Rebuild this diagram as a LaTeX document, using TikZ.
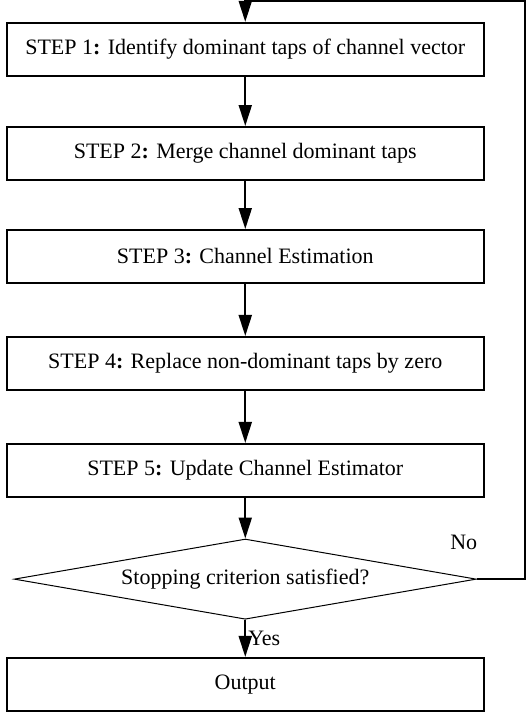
\documentclass[tikz,border=0pt]{standalone}
\usepackage{fontspec}
\setmainfont{Liberation Serif}
\usetikzlibrary{shapes.geometric,arrows.meta}

\begin{document}
\begin{tikzpicture}[stepbox/.style={rectangle, draw, line width=1pt, minimum width=8.38cm, minimum height=0.93cm, inner sep=0pt}, decbox/.style={diamond, draw, line width=0.5pt, aspect=5.8, inner sep=0pt, minimum width=8.12cm, minimum height=1.41cm}, flow/.style={line width=1pt, -{Triangle[length=10.5pt, width=6.5pt]}}, font=\fontsize{11}{13}\selectfont]
\useasboundingbox (0,0) rectangle (9.243,12.547);
\node[stepbox] (s1) at (4.31, 11.68) {STEP 1\textbf{:} Identify dominant taps of channel vector};
\node[stepbox] (s2) at (4.31, 9.85) {STEP 2\textbf{:} Merge channel dominant taps};
\node[stepbox] (s3) at (4.31, 8.04) {STEP 3\textbf{:} Channel Estimation};
\node[stepbox] (s4) at (4.31, 6.16) {STEP 4\textbf{:} Replace non-dominant taps by zero};
\node[stepbox] (s5) at (4.31, 4.28) {STEP 5\textbf{:} Update Channel Estimator};
\node[decbox] (dec) at (4.31, 2.37) {Stopping criterion satisfied?};
\node[stepbox] (out) at (4.31, 0.52) {Output};
\node (nolbl) at (8.15, 3.02) {No};
\coordinate (fbright) at (9.23, 12.53);
\coordinate (fbtop) at (4.31, 12.53);
\draw[flow] (s1) -- (s2);
\draw[flow] (s2) -- (s3);
\draw[flow] (s3) -- (s4);
\draw[flow] (s4) -- (s5);
\draw[flow] (s5) -- (dec);
\draw[flow] (dec) -- node[right, inner sep=1pt] {Yes} (out);
\draw[flow] (dec.east) -| (fbright) -- (fbtop) -- (s1);
\end{tikzpicture}
\end{document}
